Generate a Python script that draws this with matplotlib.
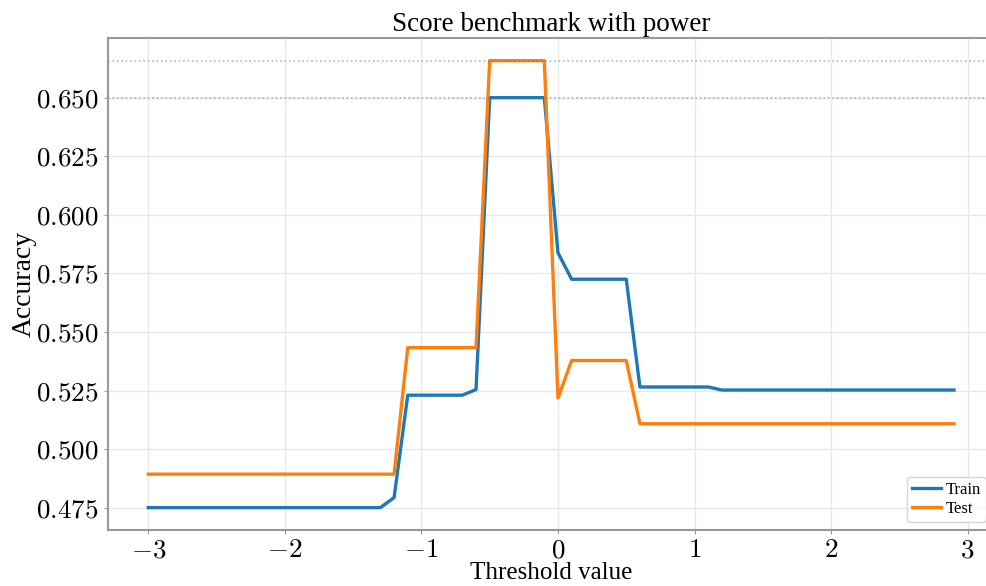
import numpy as np
import matplotlib
matplotlib.use('Agg')
import matplotlib.pyplot as plt

# thresholds -3.0 .. 2.9 step 0.1
thresholds = np.round(np.arange(-30, 30) / 10, 1)

train_acc = ([0.475] * 18 +                 # -3.0 .. -1.3
             [0.4793] +                     # -1.2
             [0.523] * 5 +                  # -1.1 .. -0.7
             [0.5254] +                     # -0.6
             [0.650] * 5 +                  # -0.5 .. -0.1
             [0.5838] +                     # 0.0
             [0.5725] * 5 +                 # 0.1 .. 0.5
             [0.5265] * 6 +                 # 0.6 .. 1.1
             [0.5252] * 18)                 # 1.2 .. 2.9

test_acc = ([0.4893] * 19 +                 # -3.0 .. -1.2
            [0.5433] * 6 +                  # -1.1 .. -0.6
            [0.6658] * 5 +                  # -0.5 .. -0.1
            [0.5218] +                      # 0.0
            [0.5378] * 5 +                  # 0.1 .. 0.5
            [0.5108] * 24)                  # 0.6 .. 2.9

yticks = [0.475, 0.5, 0.525, 0.55, 0.575, 0.6, 0.625, 0.65]
xticks = [-3, -2, -1, 0, 1, 2, 3]

plt.rcParams['mathtext.fontset'] = 'cm'
plt.rcParams['font.family'] = ['Liberation Serif', 'DejaVu Serif']

fig = plt.figure(figsize=(9.87, 5.86), dpi=100)
ax = fig.add_axes([0.1094, 0.0956, 0.898, 0.839])

ax.plot(thresholds, train_acc, color='#1f77b4', lw=2.4, label='Train')
ax.plot(thresholds, test_acc, color='#ff7f0e', lw=2.4, label='Test')
ax.axhline(max(train_acc), color='#1f77b4', ls=':', lw=1.2, alpha=0.45)
ax.axhline(max(test_acc), color='#1f77b4', ls=':', lw=1.2, alpha=0.45)

ax.set_yticks(yticks)
ax.set_yticklabels(['$%.3f$' % v for v in yticks])
ax.set_xticks(xticks)
ax.set_xticklabels(['$%d$' % v for v in xticks])

ax.grid(True, color='#e8e8e8', lw=1)
ax.set_axisbelow(True)
for s in ax.spines.values():
    s.set_color('#999999')
    s.set_linewidth(1.5)
ax.tick_params(labelsize=19.5, length=3, color='#999999', pad=4)
ax.tick_params(axis='x', pad=3)

ax.set_title('Score benchmark with power', fontsize=19.5, pad=5)
ax.set_xlabel('Threshold value', fontsize=18, labelpad=-1)
ax.set_ylabel('Accuracy', fontsize=20, labelpad=-1)
ax.legend(loc='lower right', fontsize=12, handlelength=1.7, handletextpad=0.3,
          labelspacing=0.15, borderpad=0.3)

fig.savefig('out.png', dpi=100)
